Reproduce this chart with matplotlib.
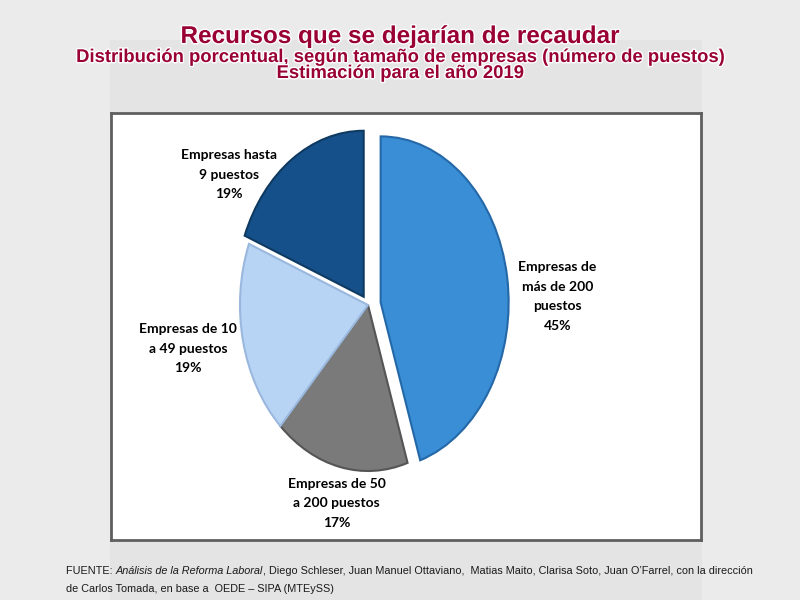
import matplotlib.pyplot as plt
import matplotlib.patheffects as pe
import numpy as np

# data
labels = ['Empresas de\nmás de 200\npuestos', 'Empresas de 50\na 200 puestos',
          'Empresas de 10\na 49 puestos', 'Empresas hasta\n9 puestos']
shares = [45, 17, 19, 19]

title = 'Recursos que se dejarían de recaudar'
subtitle1 = 'Distribución porcentual, según tamaño de empresas (número de puestos)'
subtitle2 = 'Estimación para el año 2019'

# styles
colors = ['#3A8ED6', '#7A7A7A', '#B8D4F5', '#16508A']
edges = ['#2468A8', '#555555', '#9AB8DD', '#0E3A62']
explode = [0.1, 0, 0, 0.06]
label_r = [1.48, 1.22, 1.43, 1.34]
label_shift = [-7, 1, -2, 20]
dark_red = '#990033'

fig = plt.figure(figsize=(8, 6), dpi=100)
fig.patch.set_facecolor('#EBEBEB')

# slightly darker central panel
panel = fig.add_axes([110 / 800, 0, 592 / 800, 560 / 600])
panel.set_facecolor('#E4E4E4')
panel.set_xticks([])
panel.set_yticks([])
for s in panel.spines.values():
    s.set_visible(False)

# white plot area box
box = fig.add_axes([111 / 800, 60 / 600, 590 / 800, 427 / 600])
box.set_facecolor('white')
box.set_xticks([])
box.set_yticks([])
for s in box.spines.values():
    s.set_color('#5F5F5F')
    s.set_linewidth(2)

ax = fig.add_axes([0, 0, 1, 1])
ax.patch.set_alpha(0)
wedges, _ = ax.pie(shares, startangle=90, counterclock=False, explode=explode,
                   colors=colors, wedgeprops=dict(linewidth=1.5))
for w, ec in zip(wedges, edges):
    w.set_edgecolor(ec)

# stretched pie (perspective look): 1 unit = 128 px wide, 166 px tall
ax.set_aspect('auto')
ax.set_xlim(-368 / 128, 432 / 128)
ax.set_ylim(-295 / 166, 305 / 166)
ax.axis('off')

for w, lab, v, r, d in zip(wedges, labels, shares, label_r, label_shift):
    ang = np.deg2rad((w.theta1 + w.theta2) / 2 + d)
    ax.text(r * np.cos(ang), r * np.sin(ang), '%s\n%d%%' % (lab, v),
            ha='center', va='center', fontsize=10, fontweight='bold',
            family='Lato', color='black', linespacing=1.75)

# titles
glow = [pe.withStroke(linewidth=2, foreground='white')]
tkw = dict(ha='center', va='baseline', fontweight='bold', family='Liberation Sans',
           color=dark_red, path_effects=glow)
fig.text(0.5, 1 - 43 / 600, title, fontsize=17.5, **tkw)
fig.text(0.5, 1 - 62 / 600, subtitle1, fontsize=13.3, **tkw)
fig.text(0.5, 1 - 78 / 600, subtitle2, fontsize=13.3, **tkw)

# source note
foot = dict(fontsize=7.8, family='Liberation Sans', color='#1A1A1A')
t1 = fig.text(66 / 800, 1 - 574 / 600, 'FUENTE: ', va='baseline', **foot)
t2 = ax.annotate('Análisis de la Reforma Laboral', xy=(1, 0), xycoords=t1,
                 va='bottom', style='italic', **foot)
ax.annotate(', Diego Schleser, Juan Manuel Ottaviano,  Matias Maito, Clarisa Soto, '
            'Juan O\u2019Farrel, con la dirección', xy=(1, 0), xycoords=t2, va='bottom', **foot)
fig.text(66 / 800, 1 - 592 / 600, 'de Carlos Tomada, en base a  OEDE \u2013 SIPA (MTEySS)',
         va='baseline', **foot)

plt.savefig('out.png', dpi=100, facecolor=fig.get_facecolor())
